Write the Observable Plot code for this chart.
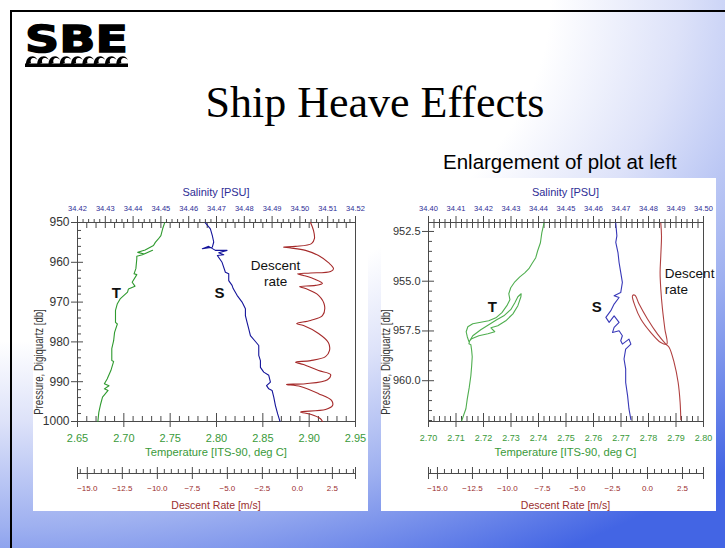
<!DOCTYPE html>
<html>
<head>
<meta charset="utf-8">
<script src="https://cdn.jsdelivr.net/npm/d3@7"></script>
<script src="https://cdn.jsdelivr.net/npm/@observablehq/plot@0.6"></script>
<style>
html,body{margin:0;padding:0;}
body{width:725px;height:548px;overflow:hidden;position:relative;font-family:"Liberation Sans",Arial,sans-serif;
 background: radial-gradient(ellipse 1000px 620px at 0 0, #ffffff 0%, #ffffff 55%, #dde2f9 68%, #9eb0f0 85%, #4365e4 105%);}
#border{position:absolute;left:10px;top:10px;width:730px;height:560px;border-top:2px solid #000;border-left:2px solid #000;}
#logo{position:absolute;left:25px;top:20px;}
#logo .sbe{font:bold 38px "DejaVu Sans";transform:scaleX(1.25);transform-origin:0 0;line-height:38px;color:#000;white-space:nowrap;-webkit-text-stroke:1.4px #000;}
#waves{position:absolute;left:25px;top:53px;}
#title{position:absolute;left:0;width:750px;top:78px;text-align:center;font:44px "Liberation Serif","Times New Roman",serif;line-height:50px;color:#000;}
#subtitle{position:absolute;left:443px;top:151px;font:20.5px "Liberation Sans",Arial,sans-serif;line-height:22px;white-space:nowrap;color:#000;}
.panel{position:absolute;top:178px;width:335px;height:333px;background:#fff;}
.ttl{position:absolute;white-space:nowrap;transform:translate(-50%,-50%);}
</style>
</head>
<body>
<div id="border"></div>
<div id="logo"><div class="sbe">SBE</div></div>
<svg id="waves" width="104" height="15"></svg>
<div id="title">Ship Heave Effects</div>
<div id="subtitle">Enlargement of plot at left</div>
<div class="panel" id="leftPanel" style="left:33px"></div>
<div class="panel" id="rightPanel" style="left:381px"></div>
<script>
// ---------------- DATA ----------------
// Left chart: [value, pressure db]
const leftTemperature = [
[2.744,950.1],[2.742,951.5],[2.740,953.3],[2.737,954.2],[2.734,955.0],[2.732,955.8],[2.723,956.9],[2.715,957.5],
[2.722,957.9],[2.731,957.0],[2.720,958.1],[2.714,958.5],[2.714,959.1],[2.713,961.6],[2.711,962.9],[2.714,963.1],
[2.709,965.0],[2.712,966.0],[2.705,966.7],[2.704,967.5],[2.696,969.2],[2.693,970.4],[2.691,972.1],[2.691,975.1],
[2.693,975.5],[2.690,977.6],[2.689,979.7],[2.687,981.7],[2.687,984.7],[2.689,984.9],[2.686,987.2],[2.682,989.3],
[2.679,990.5],[2.684,991.0],[2.679,991.8],[2.683,992.2],[2.677,993.9],[2.675,995.6],[2.673,997.7],[2.672,1000.0]
];
const leftSalinity = [
[34.4660,950.1],[34.4678,951.6],[34.4685,953.3],[34.4690,954.9],[34.4685,956.2],[34.4649,956.6],[34.4672,956.0],
[34.4696,957.0],[34.4738,957.0],[34.4708,957.6],[34.4726,958.1],[34.4703,958.3],[34.4720,960.0],[34.4732,962.5],
[34.4744,962.9],[34.4744,964.6],[34.4756,965.8],[34.4760,966.6],[34.4774,968.3],[34.4792,970.0],[34.4804,971.7],
[34.4804,973.4],[34.4810,975.1],[34.4816,976.7],[34.4822,978.4],[34.4840,979.9],[34.4852,980.9],[34.4852,983.4],
[34.4858,984.7],[34.4858,986.4],[34.4870,987.6],[34.4888,988.4],[34.4894,990.1],[34.4880,991.0],[34.4888,991.8],
[34.4900,992.2],[34.4906,993.9],[34.4912,996.0],[34.4920,998.1],[34.4928,999.9]
];
const leftDescentRate = [
[0.94,950.0],[1.15,952.0],[1.22,954.0],[1.01,955.3],[-0.13,956.0],[-0.99,956.2],[-0.49,956.4],[0.58,957.0],
[1.51,958.3],[2.22,960.1],[2.58,961.6],[2.37,962.3],[0.94,962.7],[0.01,962.9],[0.44,963.3],[1.29,964.3],
[1.79,965.3],[1.29,965.8],[0.15,966.1],[0.58,966.6],[1.51,968.3],[1.94,970.9],[1.79,973.4],[0.94,974.6],
[-0.06,975.4],[0.44,975.9],[1.51,977.9],[2.22,980.2],[2.29,982.2],[2.01,983.7],[0.94,984.7],[-0.13,985.1],
[0.44,985.7],[1.51,987.2],[2.37,988.2],[2.15,989.5],[0.58,990.5],[-0.78,990.7],[0.22,991.2],[1.51,993.0],
[2.44,994.7],[2.51,996.0],[2.01,997.0],[0.22,997.6],[0.94,998.2],[1.65,999.3],[1.79,1000.0]
];
// Right chart (enlargement)
const rightTemperature = [
[2.7420,952.08],[2.7412,952.57],[2.7407,953.07],[2.7397,953.47],[2.7390,953.82],[2.7376,954.12],[2.7365,954.37],
[2.7350,954.58],[2.7332,954.78],[2.7314,955.03],[2.7299,955.33],[2.7292,955.63],[2.7296,955.93],[2.7285,956.23],
[2.7267,956.58],[2.7245,956.84],[2.7219,956.99],[2.7190,957.06],[2.7161,957.14],[2.7143,957.29],[2.7137,957.54],
[2.7141,957.79],[2.7147,958.04],[2.7157,957.89],[2.7183,957.74],[2.7216,957.64],[2.7241,957.54],[2.7227,957.34],
[2.7252,957.24],[2.7281,956.99],[2.7307,956.64],[2.7325,956.23],[2.7336,955.78],[2.7337,955.63],[2.7325,955.78],
[2.7314,956.08],[2.7299,956.43],[2.7274,956.74],[2.7248,956.94],[2.7219,957.19],[2.7190,957.44],[2.7161,957.74],
[2.7150,957.99],[2.7147,958.14],[2.7154,958.19],[2.7157,958.49],[2.7159,958.80],[2.7157,959.25],[2.7154,959.75],
[2.7148,960.35],[2.7141,960.91],[2.7136,961.41],[2.7127,961.76],[2.7121,962.01]
];
const rightSalinity = [
[34.4681,952.08],[34.4685,952.72],[34.4681,953.05],[34.4689,953.56],[34.4693,954.06],[34.4699,954.56],[34.4705,955.06],
[34.4699,955.57],[34.4675,955.73],[34.4693,955.82],[34.4675,956.15],[34.4663,956.48],[34.4645,956.82],[34.4657,957.07],
[34.4675,956.74],[34.4693,957.07],[34.4675,957.32],[34.4669,957.58],[34.4693,957.49],[34.4705,957.74],[34.4699,957.99],
[34.4705,958.16],[34.4729,957.91],[34.4736,958.16],[34.4717,958.41],[34.4711,958.91],[34.4717,959.41],[34.4717,960.09],
[34.4724,960.76],[34.4729,961.42],[34.4736,961.96]
];
const rightDescentRate = [
[0.95,952.08],[1.00,952.72],[0.95,953.72],[0.90,954.56],[0.95,955.39],[1.07,956.40],[1.24,957.40],[1.38,958.16],
[0.95,958.08],[0.24,957.58],[-0.48,956.90],[-0.90,956.23],[-1.07,955.73],[-0.90,955.70],[-0.60,956.15],[0.00,956.90],
[0.72,957.66],[1.31,958.16],[1.55,958.33],[1.90,959.08],[2.19,960.09],[2.33,961.09],[2.38,961.96]
];
// axis domains & tick values
const leftPressureTicks = [950, 960, 970, 980, 990, 1000];
const rightPressureTicks = [952.5, 955.0, 957.5, 960.0];
const leftTemperatureTicks = [2.65, 2.70, 2.75, 2.80, 2.85, 2.90, 2.95];
const rightTemperatureTicks = [2.70, 2.71, 2.72, 2.73, 2.74, 2.75, 2.76, 2.77, 2.78, 2.79, 2.80];
const leftSalinityTicks = [34.42, 34.43, 34.44, 34.45, 34.46, 34.47, 34.48, 34.49, 34.50, 34.51, 34.52];
const rightSalinityTicks = [34.40, 34.41, 34.42, 34.43, 34.44, 34.45, 34.46, 34.47, 34.48, 34.49, 34.50];
const descentRateTicks = [-15.0, -12.5, -10.0, -7.5, -5.0, -2.5, 0.0, 2.5];
const leftDomains = {t: [2.65, 2.95], s: [34.42, 34.52], r: [-15.7, 4.15], p: [950, 1000]};
const rightDomains = {t: [2.70, 2.80], s: [34.40, 34.50], r: [-15.64, 4.0], p: [952.05, 962.05]};
// annotations
const leftLabels = {t: [{x: 2.692, y: 967.7, text: "T"}], s: [{x: 34.4711, y: 967.8, text: "S"}], r: [{x: -1.56, y: 962.7, text: "Descent\nrate"}]};
const rightLabels = {t: [{x: 2.7232, y: 956.31, text: "T"}], s: [{x: 34.4612, y: 956.33, text: "S"}], r: [{x: 1.24, y: 954.99, text: "Descent\nrate"}]};

// ---------------- RENDERING ----------------
const FONT = '"Liberation Sans", Arial, sans-serif';
const AX = "#4a4a4a";
const W = 335, H = 333;
const rng = (a, b, s) => d3.range(Math.round(a / s), Math.round(b / s) + 1).map(i => +(i * s).toFixed(4));

function mount(panel, opts) {
  const svg = Plot.plot({width: W, height: H, ...opts});
  Object.assign(svg.style, {position: "absolute", left: "0px", top: "0px", background: "none", overflow: "visible", fontFamily: FONT, maxWidth: "none"});
  panel.appendChild(svg);
}
function title(panel, text, cx, cy, size, color, rotate) {
  const d = document.createElement("div");
  d.className = "ttl";
  d.textContent = text;
  Object.assign(d.style, {left: cx + "px", top: cy + "px", fontSize: size + "px", lineHeight: size + "px", color});
  if (rotate) d.style.transform = "translate(-50%,-50%) rotate(-90deg) scaleY(1.3)";
  panel.appendChild(d);
}

function chart(panelId, c) {
  const panel = document.getElementById(panelId);
  const m = {marginLeft: c.mL, marginRight: c.mR, marginTop: 44, marginBottom: 90};
  const X = d => d[0], Y = d => d[1];
  const notIn = (arr) => v => !arr.some(a => Math.abs(a - v) < 1e-6);
  const pMinor = rng(c.d.p[0], c.d.p[1], c.pStep).filter(v => v > c.d.p[0] && v < c.d.p[1]).filter(notIn(c.pTicks));
  const tMinor = rng(c.d.t[0], c.d.t[1], c.tStep).filter(notIn(c.tTicks));
  const sMinor = rng(c.d.s[0], c.d.s[1], 0.002).filter(notIn(c.sTicks));
  const rMinor = rng(-15.5, 4.0, 0.5).filter(notIn(descentRateTicks));

  // Temperature / pressure frame
  mount(panel, {...m,
    x: {domain: c.d.t}, y: {domain: c.d.p, reverse: true},
    marks: [
      Plot.frame({stroke: AX}),
      Plot.axisY(c.pTicks, {anchor: "left", tickSize: 6, fill: "none", stroke: AX, label: null}),
      Plot.axisY(c.pTicks, {anchor: "left", tickSize: -6, fill: "none", stroke: AX, label: null}),
      Plot.axisY(pMinor, {anchor: "left", tickSize: -4, fill: "none", stroke: AX, label: null}),
      Plot.axisY(c.pTicks, {anchor: "left", tickSize: 0, tickPadding: 8, tickFormat: c.pFormat, fontSize: c.pFont, fill: "#333", label: null}),
      Plot.axisX(c.tTicks, {anchor: "bottom", tickSize: 6, fill: "none", stroke: AX, label: null}),
      Plot.axisX(c.tTicks, {anchor: "bottom", tickSize: -8, fill: "none", stroke: AX, label: null}),
      Plot.axisX(tMinor, {anchor: "bottom", tickSize: -5, fill: "none", stroke: AX, label: null}),
      Plot.axisX(tMinor.concat(c.tTicks), {anchor: "top", tickSize: -5, fill: "none", stroke: AX, label: null}),
      Plot.axisX(c.tTicks, {anchor: "bottom", tickSize: 0, tickPadding: 13, tickFormat: ".2f", fontSize: c.tFont, fill: c.greenText, label: null}),
      Plot.line(c.temperature, {x: X, y: Y, stroke: c.green, strokeWidth: 1.1}),
      Plot.text(c.labels.t, {x: "x", y: "y", text: "text", fontSize: 15, fontWeight: "bold", fill: "#111"})
    ]});
  // Salinity
  mount(panel, {...m,
    x: {domain: c.d.s}, y: {domain: c.d.p, reverse: true, axis: null},
    marks: [
      Plot.axisX(c.sTicks, {anchor: "top", tickSize: 7, fill: "none", stroke: AX, label: null}),
      Plot.axisX(sMinor, {anchor: "top", tickSize: 4, fill: "none", stroke: AX, label: null}),
      Plot.axisX(c.sTicks, {anchor: "top", tickSize: 0, tickPadding: 12, tickFormat: ".2f", fontSize: 7.5, fill: c.blueText, label: null}),
      Plot.line(c.salinity, {x: X, y: Y, stroke: c.blue, strokeWidth: 1.1}),
      Plot.text(c.labels.s, {x: "x", y: "y", text: "text", fontSize: 15, fontWeight: "bold", fill: "#111"})
    ]});
  // Descent rate curve
  mount(panel, {...m,
    x: {domain: c.d.r, axis: null}, y: {domain: c.d.p, reverse: true, axis: null},
    marks: [
      Plot.line(c.rate, {x: X, y: Y, stroke: c.red, strokeWidth: 1.1, curve: "catmull-rom"}),
      Plot.text(c.labels.r, {x: "x", y: "y", text: "text", fontSize: 13.5, lineHeight: 1.2, textAnchor: c.rAnchor, fill: "#111"})
    ]});
  // Descent rate axis below
  mount(panel, {marginLeft: c.mL, marginRight: c.mR, marginTop: 294, marginBottom: 38,
    x: {domain: c.d.r},
    marks: [
      Plot.frame({anchor: "bottom", stroke: AX}),
      Plot.axisX(descentRateTicks.concat(c.d.r), {anchor: "bottom", tickSize: 6, fill: "none", stroke: AX, label: null}),
      Plot.axisX(descentRateTicks.concat(c.d.r), {anchor: "bottom", tickSize: -6, fill: "none", stroke: AX, label: null}),
      Plot.axisX(rMinor, {anchor: "bottom", tickSize: -4, fill: "none", stroke: AX, label: null}),
      Plot.axisX(descentRateTicks, {anchor: "bottom", tickSize: 0, tickPadding: 12, tickFormat: ".1f", fontSize: 8, fill: c.redText, label: null})
    ]});

  const cx = c.mL + (W - c.mL - c.mR) / 2;
  title(panel, "Salinity [PSU]", cx, 14, 11, c.blueText);
  title(panel, "Temperature [ITS-90, deg C]", cx, 275, 11.2, c.greenText);
  title(panel, "Descent Rate [m/s]", cx, 327, 10.5, c.redText);
  title(panel, "Pressure, Digiquartz [db]", c.yTitleX, 184, 9.6, "#333", true);
}

chart("leftPanel", {
  mL: 44, mR: 13, d: leftDomains,
  pTicks: leftPressureTicks, pStep: 2, pFormat: "d", pFont: 12,
  tTicks: leftTemperatureTicks, tStep: 0.01, tFont: 11,
  sTicks: leftSalinityTicks,
  temperature: leftTemperature, salinity: leftSalinity, rate: leftDescentRate,
  labels: leftLabels, rAnchor: "middle",
  green: "#2f9a2f", blue: "#14149a", red: "#a52a2a",
  greenText: "#3a9a3a", blueText: "#2e2e96", redText: "#9a2e2e", yTitleX: 6
});
chart("rightPanel", {
  mL: 47, mR: 13, d: rightDomains,
  pTicks: rightPressureTicks, pStep: 0.5, pFormat: ".1f", pFont: 11,
  tTicks: rightTemperatureTicks, tStep: 0.002, tFont: 9,
  sTicks: rightSalinityTicks,
  temperature: rightTemperature, salinity: rightSalinity, rate: rightDescentRate,
  labels: rightLabels, rAnchor: "start",
  green: "#4fae4f", blue: "#3838b8", red: "#b04040",
  greenText: "#3a9a3a", blueText: "#2e2e96", redText: "#9a2e2e", yTitleX: 5
});

// logo waves (decoration)
(function () {
  const svg = d3.select("#waves");
  for (let i = 0; i < 9; i++) {
    const x = 1 + i * 11.3;
    svg.append("path").attr("d", `M${x},12 C${x - 1},3 ${x + 9},0 ${x + 11.5},7 C${x + 8},3.5 ${x + 3.5},5 ${x + 5},10 Z`).attr("fill", "#000");
  }
  svg.append("rect").attr("x", 0).attr("y", 10.5).attr("width", 103).attr("height", 3.5).attr("fill", "#000");
})();
</script>
</body>
</html>
